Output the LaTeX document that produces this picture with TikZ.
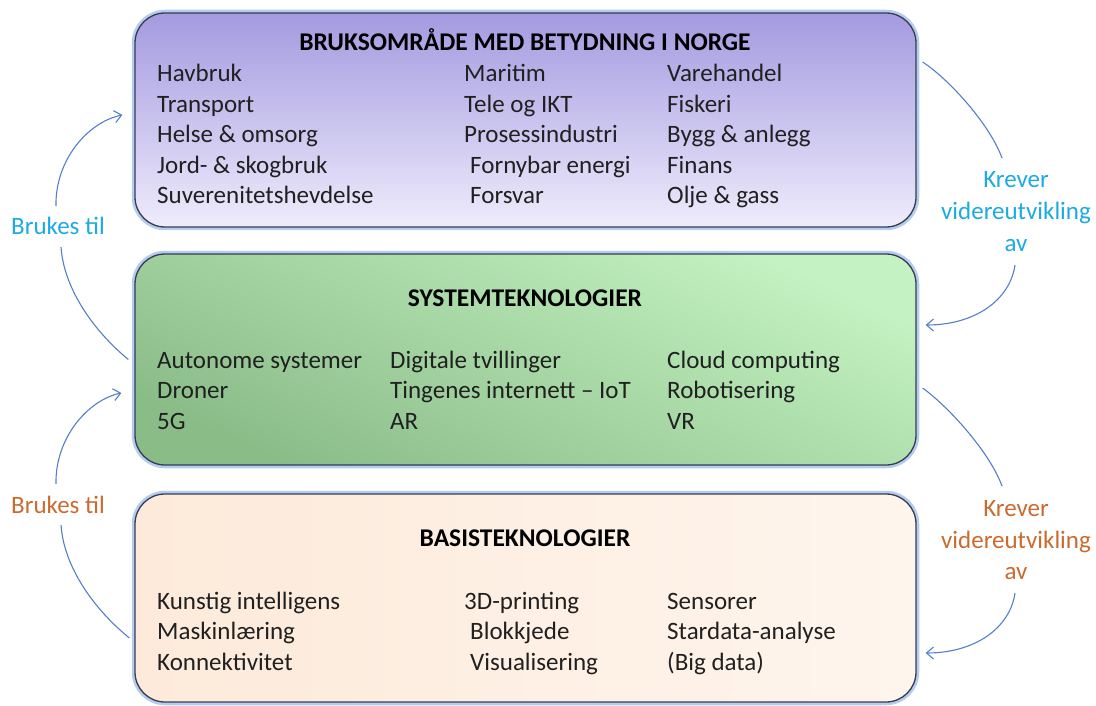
\documentclass[tikz,border=0pt]{standalone}
\usepackage{fontspec}
\setmainfont{Carlito}
\usetikzlibrary{arrows.meta}
\definecolor{txt}{RGB}{32,32,32}
\definecolor{bordercol}{RGB}{55,60,80}
\definecolor{glowblue}{RGB}{130,170,230}
\definecolor{pua}{RGB}{164,154,224}
\definecolor{pub}{RGB}{238,236,252}
\definecolor{gra}{RGB}{196,242,194}
\definecolor{grb}{RGB}{138,188,136}
\definecolor{pea}{RGB}{253,234,218}
\definecolor{peb}{RGB}{249,205,168}
\definecolor{pec}{RGB}{254,245,237}
\definecolor{conncol}{RGB}{84,126,204}
\definecolor{cyanlab}{RGB}{28,170,226}
\definecolor{orangelab}{RGB}{203,106,46}
\tikzset{
  panel/.style={draw=bordercol, line width=1.3pt, rounded corners=30pt,
    minimum width=781pt, inner sep=0pt,
    preaction={draw=glowblue, line width=6.5pt, opacity=0.6, rounded corners=30pt}},
  item/.style={anchor=base west, inner sep=0pt, text=txt,
    font=\fontsize{25}{30.5}\selectfont},
  ttl/.style={anchor=base, inner sep=0pt, text=black,
    font=\fontsize{25.5}{30.5}\selectfont\bfseries},
  lab/.style={anchor=base, inner sep=0pt, font=\fontsize{25}{30.5}\selectfont},
  conn/.style={draw=conncol, line width=1.1pt},
  tipped/.style={conn, -{Straight Barb[length=7pt,width=12pt]}}
}
\begin{document}
\begin{tikzpicture}[x=1pt,y=-1pt]
\useasboundingbox (0,0) rectangle (1096,706);

% boxes
\node[panel, minimum height=214pt, top color=pua, bottom color=pub] (b1) at (525.5,120) {};
\node[panel, minimum height=211pt, top color=gra, bottom color=grb, shading angle=-25] (b2) at (525.5,359.5) {};
\node[panel, minimum height=208pt, left color=pea, middle color=peb, right color=pec] (b3) at (525.5,598) {};

% box 1 text
\node[ttl] (t1) at (525,50.5) {BRUKSOMRÅDE MED BETYDNING I NORGE};
\node[item] (a11) at (157,82) {Havbruk};
\node[item] (a12) at (157,112.5) {Transport};
\node[item] (a13) at (157,143) {Helse \& omsorg};
\node[item] (a14) at (157,173.5) {Jord- \& skogbruk};
\node[item] (a15) at (157,204) {Suverenitetshevdelse};
\node[item] (a21) at (464,82) {Maritim};
\node[item] (a22) at (464,112.5) {Tele og IKT};
\node[item] (a23) at (464,143) {Prosessindustri};
\node[item] (a24) at (470,173.5) {Fornybar energi};
\node[item] (a25) at (470,204) {Forsvar};
\node[item] (a31) at (667,82) {Varehandel};
\node[item] (a32) at (667,112.5) {Fiskeri};
\node[item] (a33) at (667,143) {Bygg \& anlegg};
\node[item] (a34) at (667,173.5) {Finans};
\node[item] (a35) at (667,204) {Olje \& gass};

% box 2 text
\node[ttl] (t2) at (525,306.5) {SYSTEMTEKNOLOGIER};
\node[item] (s11) at (157,368.3) {Autonome systemer};
\node[item] (s12) at (157,398.8) {Droner};
\node[item] (s13) at (157,429.3) {5G};
\node[item] (s21) at (390,368.3) {Digitale tvillinger};
\node[item] (s22) at (390,398.8) {Tingenes internett -- IoT};
\node[item] (s23) at (390,429.3) {AR};
\node[item] (s31) at (667,368.3) {Cloud computing};
\node[item] (s32) at (667,398.8) {Robotisering};
\node[item] (s33) at (667,429.3) {VR};

% box 3 text
\node[ttl] (t3) at (525,546.7) {BASISTEKNOLOGIER};
\node[item] (c11) at (157,609.3) {Kunstig intelligens};
\node[item] (c12) at (157,639.8) {Maskinlæring};
\node[item] (c13) at (157,670.3) {Konnektivitet};
\node[item] (c21) at (464,609.3) {3D-printing};
\node[item] (c22) at (470,639.8) {Blokkjede};
\node[item] (c23) at (470,670.3) {Visualisering};
\node[item] (c31) at (667,609.3) {Sensorer};
\node[item] (c32) at (667,639.8) {Stardata-analyse};
\node[item] (c33) at (667,670.3) {(Big data)};

% labels
\node[lab, text=cyanlab] (l1) at (58,235) {Brukes til};
\node[lab, text=orangelab] (l2) at (58,513) {Brukes til};
\node[lab, text=cyanlab] (k1a) at (1016,188) {Krever};
\node[lab, text=cyanlab] (k1b) at (1016,219.7) {videreutvikling};
\node[lab, text=cyanlab] (k1c) at (1016,251.4) {av};
\node[lab, text=orangelab] (k2a) at (1016,516.5) {Krever};
\node[lab, text=orangelab] (k2b) at (1016,548.2) {videreutvikling};
\node[lab, text=orangelab] (k2c) at (1016,579.9) {av};

% left connectors
\draw[conn] ([xshift=-6pt]b2.west) .. controls (95,332) and (64,290) .. ([xshift=3pt,yshift=-12pt]l1.base);
\draw[tipped] ([xshift=-2pt,yshift=29pt]l1.base) .. controls (55,160) and (88,122) .. ([xshift=-12pt,yshift=5pt]b1.west);
\draw[conn] ([xshift=-5pt,yshift=-40pt]b3.west) .. controls (95,610) and (64,568) .. ([xshift=3pt,yshift=-12pt]l2.base);
\draw[tipped] ([xshift=-2pt,yshift=29pt]l2.base) .. controls (55,438) and (88,400) .. ([xshift=-13pt,yshift=-33.5pt]b2.west);

% right connectors
\draw[conn] ([xshift=6pt,yshift=58pt]b1.east) .. controls (950,80) and (990,125) .. ([xshift=-14pt,yshift=30pt]k1a.base);
\draw[tipped] ([xshift=-1pt,yshift=-13.6pt]k1c.base) .. controls (1010,300) and (975,325) .. ([xshift=9pt,yshift=34.5pt]b2.east);
\draw[conn] ([xshift=6pt,yshift=-28.5pt]b2.east) .. controls (950,408) and (990,453) .. ([xshift=-14pt,yshift=30.5pt]k2a.base);
\draw[tipped] ([xshift=-1pt,yshift=-13.1pt]k2c.base) .. controls (1010,628) and (975,653) .. ([xshift=9pt,yshift=-55pt]b3.east);
\end{tikzpicture}
\end{document}
